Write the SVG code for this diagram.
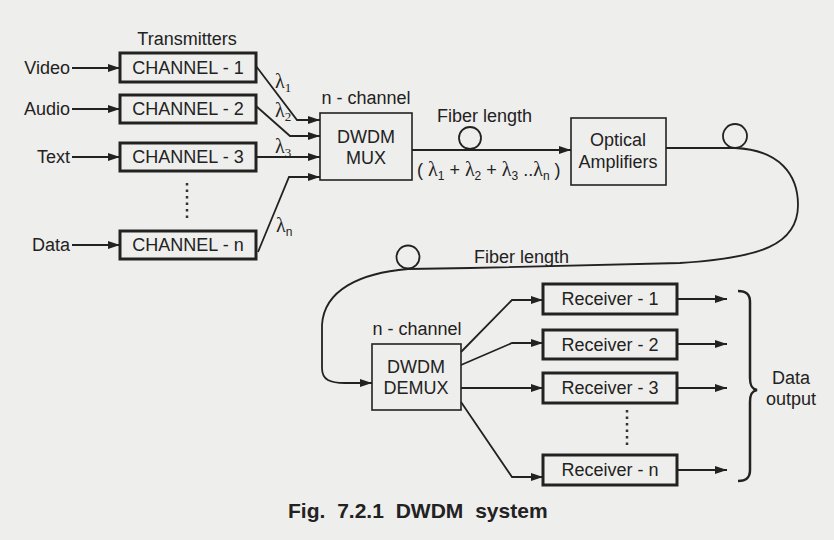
<svg xmlns="http://www.w3.org/2000/svg" width="834" height="540" viewBox="0 0 834 540">
<defs>
<marker id="ah" viewBox="0 0 12 8" refX="12" refY="4" markerWidth="12" markerHeight="8" markerUnits="userSpaceOnUse" orient="auto">
<path d="M0,0 L12,4 L0,8 Z" fill="#222"/>
</marker>
<style>
text{font-family:"Liberation Sans",Arial,sans-serif;font-size:18px;fill:#222}
.c{text-anchor:middle}
.e{text-anchor:end}
.lam{font-family:"Liberation Serif","Times New Roman",serif;font-size:20px}
.sub{font-size:12px}
.ser{font-family:"Liberation Serif","Times New Roman",serif;font-size:13px}
.thick{fill:none;stroke:#222;stroke-width:3}
.thin{fill:none;stroke:#222;stroke-width:1.6}
.con{fill:none;stroke:#222;stroke-width:1.8}
.arr{marker-end:url(#ah)}
.dots{fill:none;stroke:#333;stroke-width:2.5;stroke-dasharray:2.5 4}
</style>
</defs>
<rect width="834" height="540" fill="#eeeeec"/>

<g id="inputs">
<text class="e" x="70" y="74">Video</text>
<text class="e" x="70" y="115">Audio</text>
<text class="e" x="70" y="163">Text</text>
<text class="e" x="70" y="251">Data</text>
</g>

<text id="transmitters-label" class="c" x="187" y="45">Transmitters</text>

<g id="ch1"><rect class="thick" x="120" y="53" width="136" height="29"/><text class="c" x="188" y="74">CHANNEL - 1</text></g>
<g id="ch2"><rect class="thick" x="120" y="95" width="136" height="28"/><text class="c" x="188" y="115">CHANNEL - 2</text></g>
<g id="ch3"><rect class="thick" x="120" y="143" width="136" height="28"/><text class="c" x="188" y="163">CHANNEL - 3</text></g>
<g id="chn"><rect class="thick" x="120" y="231" width="136" height="28"/><text class="c" x="188" y="251">CHANNEL - n</text></g>
<line id="ch-dots" class="dots" x1="187" y1="183" x2="187" y2="218"/>

<g id="mux">
<text class="c" x="366" y="104">n - channel</text>
<rect class="thin" x="320" y="113" width="92" height="67"/>
<text class="c" x="366" y="143">DWDM</text>
<text class="c" x="366" y="164">MUX</text>
</g>

<g id="amp">
<rect class="thin" x="571" y="118" width="95" height="67"/>
<text class="c" x="618" y="146">Optical</text>
<text class="c" x="618" y="168">Amplifiers</text>
</g>

<g id="demux">
<text class="c" x="417" y="335">n - channel</text>
<rect class="thin" x="372" y="344" width="89" height="66"/>
<text class="c" x="416" y="373">DWDM</text>
<text class="c" x="416" y="394">DEMUX</text>
</g>

<g id="rx1"><rect class="thick" x="543" y="284" width="134" height="30"/><text class="c" x="610" y="305">Receiver - 1</text></g>
<g id="rx2"><rect class="thick" x="543" y="330" width="134" height="29"/><text class="c" x="610" y="351">Receiver - 2</text></g>
<g id="rx3"><rect class="thick" x="543" y="373" width="134" height="30"/><text class="c" x="610" y="394">Receiver - 3</text></g>
<g id="rxn"><rect class="thick" x="543" y="455" width="134" height="30"/><text class="c" x="610" y="476">Receiver - n</text></g>
<line id="rx-dots" class="dots" x1="627" y1="410" x2="627" y2="446"/>

<g id="data-output">
<path d="M738,291 C746,291 750,294 750,302 L750,378 C750,386 752,389 757,390 C752,391 750,394 750,402 L750,470 C750,478 746,481 738,481" fill="none" stroke="#222" stroke-width="2.5"/>
<text class="c" x="791" y="384">Data</text>
<text class="c" x="791" y="405">output</text>
</g>

<g id="connectors">
<path class="con arr" d="M72,68 L120,68"/>
<path class="con arr" d="M72,109 L120,109"/>
<path class="con arr" d="M72,157 L120,157"/>
<path class="con arr" d="M72,245 L120,245"/>
<path class="con arr" d="M256,66 L297,120 L320,120"/>
<path class="con arr" d="M256,106 L290,136 L320,136"/>
<path class="con arr" d="M256,157 L320,157"/>
<path class="con arr" d="M258,252 L289,177 L320,177"/>
<path class="con arr" d="M412,150 L571,150"/>
<circle class="con" cx="470" cy="138" r="11"/>
<path class="con" d="M666,148 L735,148"/>
<circle class="con" cx="735" cy="136" r="12"/>
<path class="con arr" d="M735,148 C780,150 798,175 798,205 C798,245 760,258 680,263 L470,268 L408,269 C360,273 324,290 322,325 L322,368 C322,380 330,383 345,383 L372,383"/>
<circle class="con" cx="408" cy="257" r="11.5"/>
<path class="con arr" d="M461,352 L512,300 L543,300"/>
<path class="con arr" d="M461,365 L512,343 L543,343"/>
<path class="con arr" d="M461,388 L543,388"/>
<path class="con arr" d="M461,402 L512,477 L543,477"/>
<path class="con arr" d="M677,299 L727,299"/>
<path class="con arr" d="M677,344 L727,344"/>
<path class="con arr" d="M677,388 L727,388"/>
<path class="con arr" d="M677,470 L727,470"/>
</g>

<g id="labels">
<text x="275" y="88"><tspan class="lam">λ</tspan><tspan class="ser" dy="4">1</tspan></text>
<text x="275" y="117"><tspan class="lam">λ</tspan><tspan class="ser" dy="4">2</tspan></text>
<text x="275" y="153"><tspan class="lam">λ</tspan><tspan class="ser" dy="4">3</tspan></text>
<text x="276" y="232"><tspan class="lam">λ</tspan><tspan class="sub" dy="4">n</tspan></text>
<text x="437" y="122">Fiber length</text>
<text x="417" y="176">( <tspan class="lam">λ</tspan><tspan class="sub" dy="4">1</tspan><tspan dy="-4"> + </tspan><tspan class="lam">λ</tspan><tspan class="sub" dy="4">2</tspan><tspan dy="-4"> + </tspan><tspan class="lam">λ</tspan><tspan class="sub" dy="4">3</tspan><tspan dy="-4"> ..</tspan><tspan class="lam">λ</tspan><tspan class="sub" dy="4">n</tspan><tspan dy="-4"> )</tspan></text>
<text x="474" y="263">Fiber length</text>
</g>

<text id="caption" x="288" y="518" style="font-weight:bold;font-size:21px;word-spacing:6px">Fig. 7.2.1 DWDM system</text>
</svg>
